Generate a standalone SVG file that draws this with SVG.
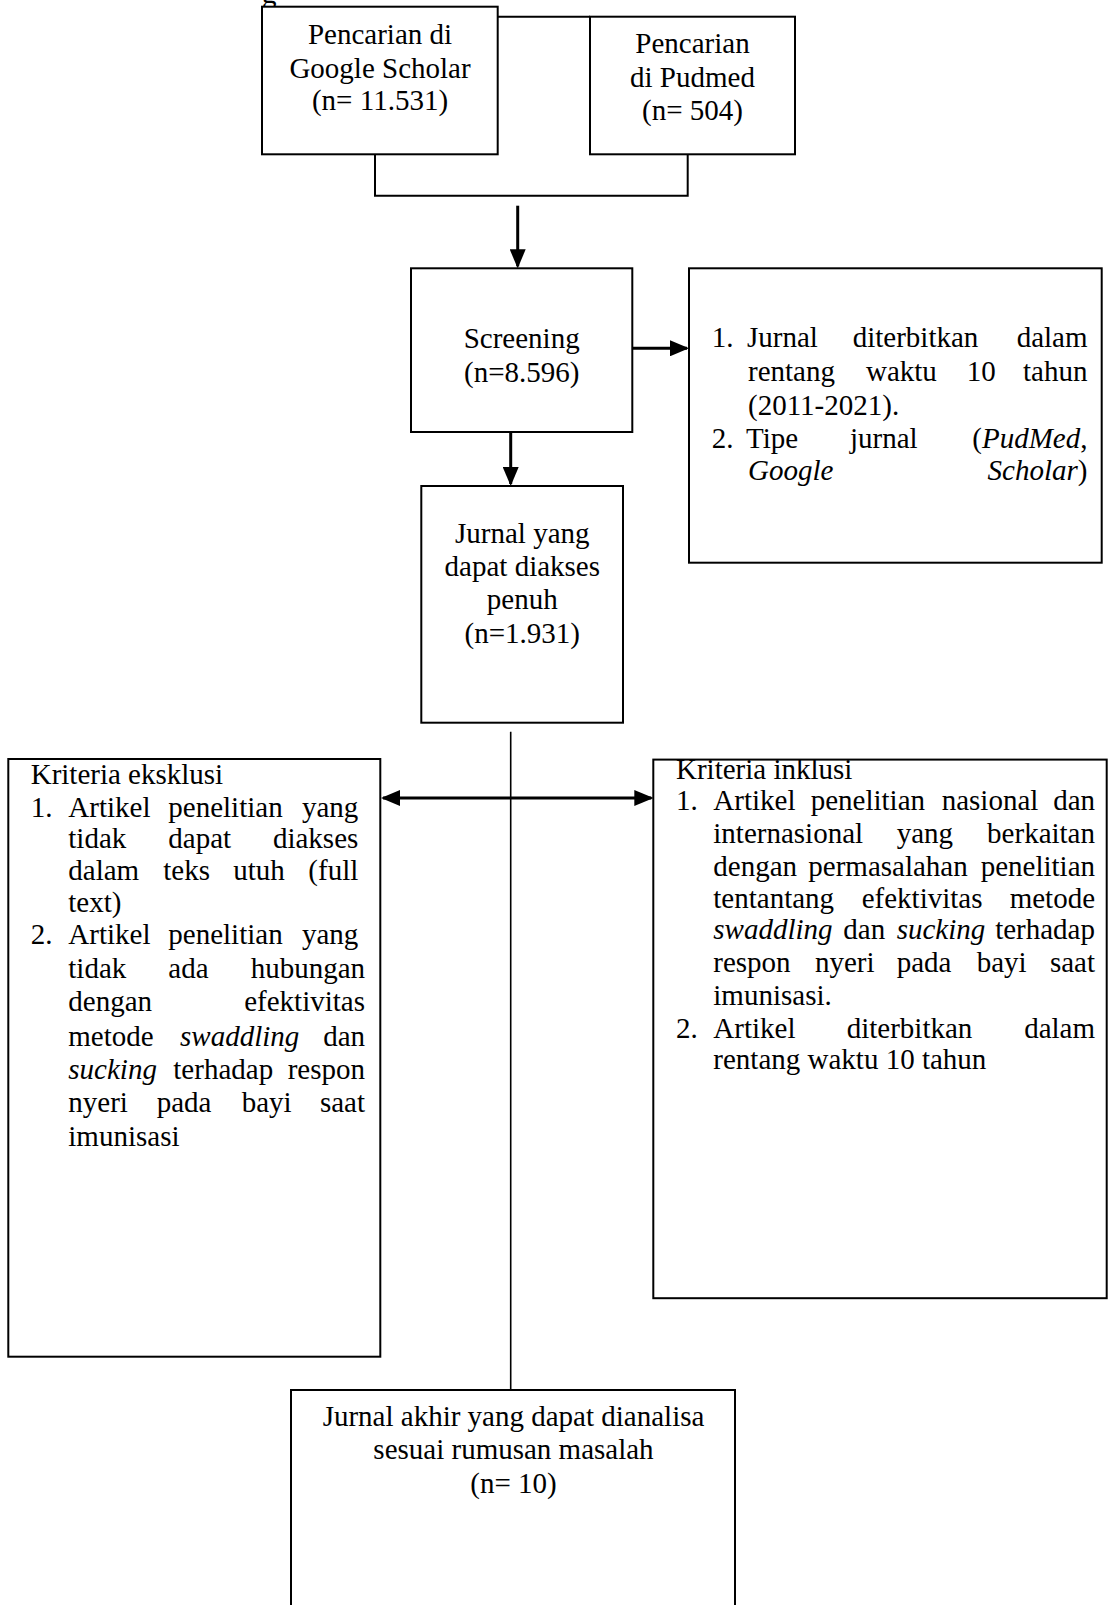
<svg xmlns="http://www.w3.org/2000/svg" width="1108" height="1605" viewBox="0 0 1108 1605">
<style>
.box{fill:#fff;stroke:#000;stroke-width:2}
.t{font-family:"Liberation Serif","Times New Roman",serif;font-size:29px;fill:#000}
.c{text-anchor:middle}
.e{text-anchor:end}
.i{font-style:italic}
.ln{fill:none;stroke:#000;stroke-width:2}
.ar{fill:none;stroke:#000;stroke-width:3}
</style>
<defs>
<marker id="ah" viewBox="0 0 19 16" refX="17" refY="8" markerWidth="19" markerHeight="16" markerUnits="userSpaceOnUse" orient="auto-start-reverse">
<path d="M0,0 L19,8 L0,16 Z" fill="#000"/>
</marker>
</defs>
<rect width="1108" height="1605" fill="#fff"/>
<text class="t" x="262" y="3">g</text>

<g id="connectors">
<path class="ln" d="M497.7,16.7 H590"/>
<path class="ln" d="M375,154.3 V195.7 H687.7 V154.3"/>
<line class="ar" x1="517.7" y1="205.7" x2="517.7" y2="266.3" marker-end="url(#ah)"/>
<line class="ar" x1="632.3" y1="348.3" x2="687" y2="348.3" marker-end="url(#ah)"/>
<line class="ar" x1="510.7" y1="432" x2="510.7" y2="484" marker-end="url(#ah)"/>
<line class="ln" x1="510.7" y1="731.7" x2="510.7" y2="1390" style="stroke-width:1.6"/>
<line class="ar" x1="383" y1="798" x2="651.3" y2="798" marker-start="url(#ah)" marker-end="url(#ah)"/>
</g>

<g id="google">
<rect class="box" x="262" y="6.7" width="235.7" height="147.6"/>
<text class="t c" x="380" y="44.3">Pencarian di</text>
<text class="t c" x="380" y="78.3">Google Scholar</text>
<text class="t c" x="380" y="110">(n= 11.531)</text>
</g>

<g id="pudmed">
<rect class="box" x="590" y="16.7" width="205" height="137.6"/>
<text class="t c" x="692.5" y="53.3">Pencarian</text>
<text class="t c" x="692.5" y="87.3">di Pudmed</text>
<text class="t c" x="692.5" y="120">(n= 504)</text>
</g>

<g id="screening">
<rect class="box" x="411" y="268.3" width="221.3" height="163.7"/>
<text class="t c" x="521.7" y="348.3">Screening</text>
<text class="t c" x="521.7" y="381.7">(n=8.596)</text>
</g>

<g id="kriteria-jurnal">
<rect class="box" x="689" y="268.3" width="412.7" height="294.4"/>
<text class="t" x="711.7" y="347.3">1.</text>
<text class="t" x="747" y="347.3">Jurnal</text>
<text class="t" x="852.7" y="347.3">diterbitkan</text>
<text class="t e" x="1087.5" y="347.3">dalam</text>
<text class="t" x="748" y="380.7">rentang</text>
<text class="t" x="866" y="380.7">waktu</text>
<text class="t" x="966.7" y="380.7">10</text>
<text class="t e" x="1087.5" y="380.7">tahun</text>
<text class="t" x="748" y="414.5">(2011-2021).</text>
<text class="t" x="711.7" y="447.5">2.</text>
<text class="t" x="746" y="447.5">Tipe</text>
<text class="t" x="850" y="447.5">jurnal</text>
<text class="t e" x="1087.5" y="447.5">(<tspan class="i">PudMed</tspan>,</text>
<text class="t i" x="748" y="480">Google</text>
<text class="t e" x="1087.5" y="480"><tspan class="i">Scholar</tspan>)</text>
</g>

<g id="jurnal-penuh">
<rect class="box" x="421.3" y="486" width="201.7" height="236.7"/>
<text class="t c" x="522.3" y="542.7">Jurnal yang</text>
<text class="t c" x="522.3" y="576">dapat diakses</text>
<text class="t c" x="522.3" y="609">penuh</text>
<text class="t c" x="522.3" y="642.5">(n=1.931)</text>
</g>

<g id="eksklusi">
<rect class="box" x="8.3" y="759" width="372" height="597.7"/>
<text class="t" x="30.7" y="784.3">Kriteria eksklusi</text>
<text class="t" x="30.7" y="816.7">1.</text>
<text class="t" x="68.3" y="816.7">Artikel</text>
<text class="t" x="168.3" y="816.7">penelitian</text>
<text class="t e" x="358.3" y="816.7">yang</text>
<text class="t" x="68.3" y="848.3">tidak</text>
<text class="t" x="168.3" y="848.3">dapat</text>
<text class="t e" x="358.3" y="848.3">diakses</text>
<text class="t" x="68.3" y="880">dalam</text>
<text class="t" x="163.3" y="880">teks</text>
<text class="t" x="233.3" y="880">utuh</text>
<text class="t e" x="358.3" y="880">(full</text>
<text class="t" x="68.3" y="911.7">text)</text>
<text class="t" x="30.7" y="944">2.</text>
<text class="t" x="68.3" y="944">Artikel</text>
<text class="t" x="168.3" y="944">penelitian</text>
<text class="t e" x="358.3" y="944">yang</text>
<text class="t" x="68.3" y="977.5">tidak</text>
<text class="t" x="168.3" y="977.5">ada</text>
<text class="t e" x="365" y="977.5">hubungan</text>
<text class="t" x="68.3" y="1011">dengan</text>
<text class="t e" x="365" y="1011">efektivitas</text>
<text class="t" x="68.3" y="1045.5">metode</text>
<text class="t i" x="180" y="1045.5">swaddling</text>
<text class="t e" x="365" y="1045.5">dan</text>
<text class="t i" x="68.3" y="1079">sucking</text>
<text class="t" x="173.3" y="1079">terhadap</text>
<text class="t e" x="365" y="1079">respon</text>
<text class="t" x="68.3" y="1112">nyeri</text>
<text class="t" x="156.7" y="1112">pada</text>
<text class="t" x="241.7" y="1112">bayi</text>
<text class="t e" x="365" y="1112">saat</text>
<text class="t" x="68.3" y="1146">imunisasi</text>
</g>

<g id="inklusi">
<rect class="box" x="653.3" y="759.6" width="453.4" height="538.6"/>
<text class="t" x="676" y="779">Kriteria inklusi</text>
<text class="t" x="676" y="809.6">1.</text>
<text class="t" x="713.3" y="809.6">Artikel</text>
<text class="t" x="810.7" y="809.6">penelitian</text>
<text class="t" x="941.7" y="809.6">nasional</text>
<text class="t e" x="1095" y="809.6">dan</text>
<text class="t" x="713.3" y="842.5">internasional</text>
<text class="t" x="896.7" y="842.5">yang</text>
<text class="t e" x="1095" y="842.5">berkaitan</text>
<text class="t" x="713.3" y="875.5">dengan</text>
<text class="t" x="808.3" y="875.5">permasalahan</text>
<text class="t e" x="1095" y="875.5">penelitian</text>
<text class="t" x="713.3" y="907.5">tentantang</text>
<text class="t" x="861.7" y="907.5">efektivitas</text>
<text class="t e" x="1095" y="907.5">metode</text>
<text class="t i" x="713.3" y="939">swaddling</text>
<text class="t" x="843.3" y="939">dan</text>
<text class="t i" x="896.7" y="939">sucking</text>
<text class="t e" x="1095" y="939">terhadap</text>
<text class="t" x="713.3" y="972">respon</text>
<text class="t" x="815" y="972">nyeri</text>
<text class="t" x="896.7" y="972">pada</text>
<text class="t" x="976.7" y="972">bayi</text>
<text class="t e" x="1095" y="972">saat</text>
<text class="t" x="713.3" y="1004.5">imunisasi.</text>
<text class="t" x="676" y="1037.5">2.</text>
<text class="t" x="713.3" y="1037.5">Artikel</text>
<text class="t" x="846.7" y="1037.5">diterbitkan</text>
<text class="t e" x="1095" y="1037.5">dalam</text>
<text class="t" x="713.3" y="1069">rentang waktu 10 tahun</text>
</g>

<g id="jurnal-akhir">
<rect class="box" x="291" y="1390" width="444" height="240"/>
<text class="t c" x="513.5" y="1426">Jurnal akhir yang dapat dianalisa</text>
<text class="t c" x="513.5" y="1459">sesuai rumusan masalah</text>
<text class="t c" x="513.5" y="1493">(n= 10)</text>
</g>
</svg>
